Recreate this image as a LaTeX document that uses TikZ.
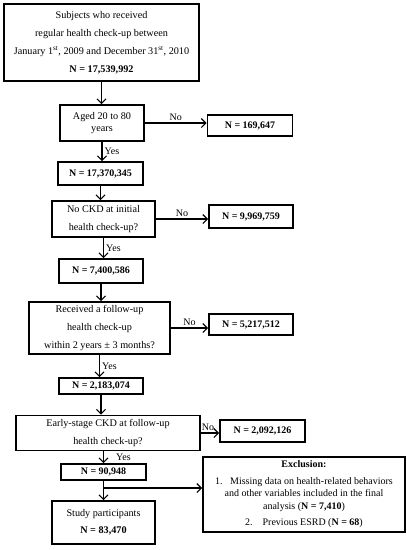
\documentclass[tikz,border=0pt]{standalone}
\usepackage{fontspec}
\setmainfont{Liberation Serif}
\usetikzlibrary{arrows.meta}

\tikzset{
  box/.style={draw, line width=1.6pt, align=center, inner sep=0pt,
    font=\fontsize{10.2}{18}\selectfont},
  nbox/.style={box, font=\fontsize{10}{11}\selectfont\bfseries},
  flow/.style={-{Straight Barb[length=4.5pt,width=9pt]}, line width=1.2pt},
  lbl/.style={font=\fontsize{10}{11}\selectfont, inner sep=2pt}
}

\begin{document}
\begin{tikzpicture}[x=1pt,y=-1pt]
      \useasboundingbox (0,0) rectangle (407,550);
      % main column
      \node[box, minimum width=195pt, minimum height=77pt] (start) at (101.5,42.5)
        {Subjects who received\\ regular health check-up between\\
         January 1\textsuperscript{st}, 2009 and December 31\textsuperscript{st}, 2010\\
         \textbf{N = 17,539,992}};
      \node[box, minimum width=84pt, minimum height=36pt,
        font=\fontsize{10.2}{11.5}\selectfont] (age) at (102,123) {Aged 20 to 80\\ years};
      \node[nbox, minimum width=85pt, minimum height=23pt] (n1) at (100.5,173.5) {N = 17,370,345};
      \node[box, minimum width=103pt, minimum height=36pt] (ckd) at (103.5,219)
        {No CKD at initial\\ health check-up?};
      \node[nbox, minimum width=84pt, minimum height=24pt] (n2) at (101,271) {N = 7,400,586};
      \node[box, minimum width=141pt, minimum height=52pt] (fu) at (99.5,328)
        {Received a follow-up\\ health check-up\\ within 2 years ± 3 months?};
      \node[nbox, minimum width=84pt, minimum height=16pt] (n3) at (101,386) {N = 2,183,074};
      \node[box, minimum width=184pt, minimum height=35pt] (early) at (108,433)
        {Early-stage CKD at follow-up\\ health check-up?};
      \node[nbox, minimum width=85pt, minimum height=16pt] (n4) at (103.5,472) {N = 90,948};
      \node[box, minimum width=103pt, minimum height=43pt, font=\fontsize{10.2}{17}\selectfont]
        (study) at (103.5,522.5) {Study participants\\ \textbf{N = 83,470}};
      % excluded at each step
      \node[nbox, minimum width=85pt, minimum height=21pt] (no1) at (250,125.5) {N = 169,647};
      \node[nbox, minimum width=84pt, minimum height=23pt] (no2) at (251,216.5) {N = 9,969,759};
      \node[nbox, minimum width=84pt, minimum height=21pt] (no3) at (251,324.5) {N = 5,217,512};
      \node[nbox, minimum width=85pt, minimum height=22pt] (no4) at (262.5,431) {N = 2,092,126};
      \node[box, minimum width=202pt, minimum height=75pt, font=\fontsize{10}{12.5}\selectfont]
        (excl) at (304,494.5)
        {\textbf{Exclusion:}\\[4pt]
         1.\enspace\ Missing data on health-related behaviors\\
         and other variables included in the final\\
         analysis (\textbf{N = 7,410})\\[4pt]
         2.\quad Previous ESRD (\textbf{N = 68})};
      \coordinate (split) at (103.5,488);
      \begin{scope}[flow]
        \draw (start.south) to (start.south |- age.north);
        \draw (age.south) to node[lbl, right] {Yes} (age.south |- n1.north);
        \draw (n1.south) to (n1.south |- ckd.north);
        \draw (ckd.south) to node[lbl, right] {Yes} (ckd.south |- n2.north);
        \draw (n2.south) to (n2.south |- fu.north);
        \draw (fu.south) to node[lbl, right] {Yes} (fu.south |- n3.north);
        \draw (n3.south) to (n3.south |- early.north);
        \draw (early.south -| n4.north) to node[lbl, right, xshift=10pt] {Yes} (n4.north);
        \draw (n4.south) to (n4.south |- study.north);
        \draw (split) to (split -| excl.west);
        \draw (age.east) to node[lbl, above] {No} (age.east -| no1.west);
        \draw (ckd.east) to node[lbl, above] {No} (ckd.east -| no2.west);
        \draw (fu.east) to node[lbl, above] {No} (fu.east -| no3.west);
        \draw (early.east) to node[lbl, above, xshift=-2pt] {No} (early.east -| no4.west);
      \end{scope}
    \end{tikzpicture}
\end{document}
